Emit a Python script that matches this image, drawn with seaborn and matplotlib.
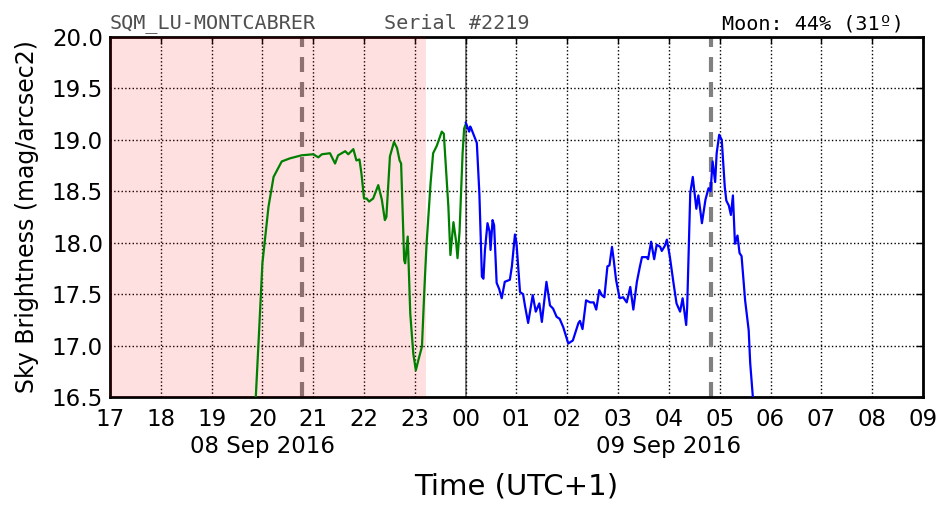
import matplotlib
matplotlib.use("Agg")
import matplotlib.pyplot as plt
import matplotlib.transforms as mtransforms
import pandas as pd
import seaborn as sns

# hours after 17:00 on 08 Sep 2016 (24 = midnight)
evening_hours = [19.85, 19.87, 19.93, 20.00, 20.12, 20.22, 20.38, 20.54, 20.77, 21.00,
                 21.10, 21.17, 21.33, 21.43, 21.49, 21.63, 21.69, 21.79, 21.85, 21.91,
                 21.95, 22.00, 22.05, 22.10, 22.18, 22.28, 22.35, 22.41, 22.44, 22.51,
                 22.59, 22.65, 22.70, 22.73, 22.79, 22.81, 22.86, 22.91, 22.97, 23.02,
                 23.07, 23.14, 23.19, 23.23, 23.31, 23.36, 23.43, 23.53, 23.57, 23.66,
                 23.70, 23.76, 23.81, 23.84, 23.88, 23.94, 23.97, 24.00]
evening_mag = [16.45, 16.50, 17.09, 17.80, 18.35, 18.64, 18.79, 18.82, 18.85, 18.86,
               18.83, 18.86, 18.87, 18.77, 18.85, 18.89, 18.86, 18.91, 18.80, 18.81,
               18.67, 18.43, 18.43, 18.40, 18.43, 18.56, 18.42, 18.22, 18.25, 18.84,
               18.98, 18.92, 18.80, 18.77, 17.83, 17.80, 18.06, 17.31, 16.92, 16.76,
               16.86, 16.99, 17.57, 17.98, 18.58, 18.87, 18.94, 19.08, 19.06, 18.35,
               17.88, 18.20, 18.02, 17.85, 18.11, 18.87, 19.11, 19.15]

night_hours = [24.00, 24.07, 24.09, 24.11, 24.22, 24.27, 24.32, 24.35, 24.38, 24.43,
               24.47, 24.49, 24.53, 24.56, 24.61, 24.66, 24.71, 24.77, 24.87, 24.91,
               24.97, 25.00, 25.07, 25.13, 25.17, 25.23, 25.32, 25.38, 25.45, 25.50,
               25.59, 25.66, 25.72, 25.79, 25.85, 25.92, 26.02, 26.11, 26.22, 26.25,
               26.30, 26.37, 26.45, 26.52, 26.57, 26.63, 26.68, 26.73, 26.79, 26.83,
               26.88, 26.91, 26.96, 27.03, 27.10, 27.17, 27.24, 27.30, 27.37, 27.43,
               27.47, 27.56, 27.59, 27.65, 27.71, 27.76, 27.83, 27.86, 27.92, 27.96,
               28.02, 28.09, 28.15, 28.22, 28.27, 28.34, 28.36, 28.42, 28.47, 28.54,
               28.58, 28.65, 28.72, 28.78, 28.82, 28.86, 28.91, 28.94, 28.99, 29.04,
               29.10, 29.13, 29.18, 29.22, 29.26, 29.30, 29.35, 29.39, 29.43, 29.50,
               29.57, 29.60, 29.66]
night_mag = [19.17, 19.08, 19.13, 19.11, 18.97, 18.48, 17.67, 17.65, 17.93, 18.19,
             18.11, 17.93, 18.22, 18.17, 17.61, 17.55, 17.46, 17.62, 17.64, 17.77,
             18.08, 18.00, 17.52, 17.50, 17.38, 17.22, 17.49, 17.33, 17.41, 17.23,
             17.62, 17.39, 17.36, 17.28, 17.26, 17.18, 17.02, 17.05, 17.22, 17.24,
             17.16, 17.44, 17.42, 17.42, 17.35, 17.54, 17.49, 17.47, 17.77, 17.78,
             17.96, 17.85, 17.64, 17.46, 17.47, 17.42, 17.57, 17.35, 17.62, 17.77,
             17.86, 17.86, 17.84, 18.01, 17.84, 17.98, 17.96, 17.92, 17.97, 18.03,
             17.86, 17.61, 17.41, 17.33, 17.46, 17.20, 17.38, 18.48, 18.64, 18.33,
             18.46, 18.19, 18.42, 18.53, 18.50, 18.79, 18.59, 18.87, 19.05, 19.00,
             18.54, 18.41, 18.36, 18.27, 18.46, 17.99, 18.07, 17.90, 17.87, 17.44,
             17.15, 16.83, 16.45]

hour_ticks = list(range(17, 34))
hour_labels = ["17", "18", "19", "20", "21", "22", "23", "00", "01", "02",
               "03", "04", "05", "06", "07", "08", "09"]
mag_ticks = [16.5, 17.0, 17.5, 18.0, 18.5, 19.0, 19.5, 20.0]
date_positions = [20, 28]
date_labels = ["08 Sep 2016", "09 Sep 2016"]
twilight_end = 23.22
midnight = 24.0
moon_events = [20.78, 28.83]

evening = pd.DataFrame({"hour": evening_hours, "mag": evening_mag})
night = pd.DataFrame({"hour": night_hours, "mag": night_mag})

sns.set_style("white")
plt.rcParams["font.family"] = ["DejaVu Sans"]
plt.rcParams["text.color"] = "black"
plt.rcParams["axes.labelcolor"] = "black"
plt.rcParams["xtick.color"] = "black"
plt.rcParams["ytick.color"] = "black"

fig = plt.figure(figsize=(9.52, 5.12), dpi=100)
ax = fig.add_axes([0.1155, 0.2246, 0.854, 0.7031])

for h in moon_events:
    ax.axvline(h, color="gray", lw=3, dashes=(3.6, 2.4), zorder=2)
ax.axvspan(17, twilight_end, color="red", alpha=0.12, lw=0, zorder=3)
ax.axvline(midnight, color="black", alpha=0.55, lw=1.3, zorder=3)

sns.lineplot(data=evening, x="hour", y="mag", sort=False, estimator=None,
             color="green", lw=1.6, ax=ax, zorder=4)
sns.lineplot(data=night, x="hour", y="mag", sort=False, estimator=None,
             color="blue", lw=1.6, ax=ax, zorder=4)

ax.set_xlim(17, 33)
ax.set_ylim(16.5, 20.0)
ax.set_xticks(hour_ticks)
ax.set_xticklabels(hour_labels)
ax.set_yticks(mag_ticks)
ax.set_yticklabels([f"{v:.1f}" for v in mag_ticks])
ax.tick_params(labelsize=16.5, direction="in", length=5, width=1, top=True, right=True)
ax.tick_params(axis="x", pad=8)
ax.tick_params(axis="y", pad=5)
ax.grid(True, color="black", linestyle=":", lw=1)
for sp in ax.spines.values():
    sp.set_linewidth(2)
    sp.set_color("black")

ax.set_xlabel("Time (UTC+1)", fontsize=21, labelpad=30)
ax.set_ylabel("Sky Brightness (mag/arcsec2)", fontsize=17, labelpad=9)

trans = mtransforms.blended_transform_factory(ax.transData, ax.transAxes)
for pos, lab in zip(date_positions, date_labels):
    ax.text(pos, -0.105, lab, transform=trans, ha="center", va="top", fontsize=16.5)

mono = ["DejaVu Sans Mono"]
ax.text(0.0, 1.01, "SQM_LU-MONTCABRER", transform=ax.transAxes, ha="left", va="bottom",
        fontsize=14.5, color="#505050", family=mono)
ax.text(0.337, 1.01, "Serial #2219", transform=ax.transAxes, ha="left", va="bottom",
        fontsize=14.5, color="#505050", family=mono)
ax.text(0.976, 1.01, "Moon: 44% (31º)", transform=ax.transAxes, ha="right", va="bottom",
        fontsize=14.5, color="black", family=mono)

fig.savefig("out.png", dpi=100)
